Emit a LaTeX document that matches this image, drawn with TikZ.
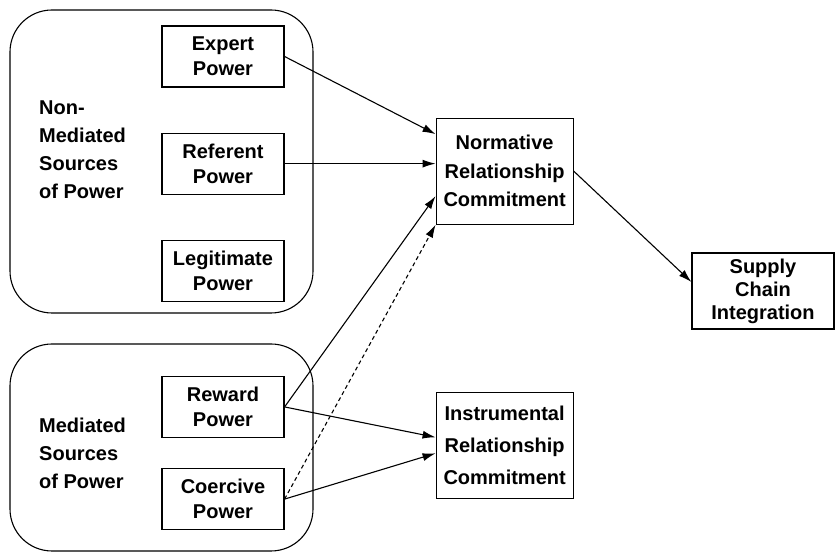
\documentclass[tikz,border=0pt]{standalone}
\usepackage{fontspec}
\setmainfont{Liberation Sans}
\usetikzlibrary{positioning,arrows.meta}

\tikzset{
  powerbox/.style={draw, line width=1.15pt, minimum width=122pt, minimum height=61pt,
    inner sep=0pt, align=center, font=\fontsize{20}{25}\selectfont\bfseries},
  commitbox/.style={powerbox, minimum width=137pt, minimum height=106pt,
    font=\fontsize{20}{28.5}\selectfont\bfseries},
  groupbox/.style={draw, line width=1.1pt, rounded corners=42pt},
  grouplabel/.style={anchor=west, inner sep=0pt, align=left,
    font=\fontsize{20}{28}\selectfont\bfseries},
  link/.style={line width=1.1pt, -{Latex[length=13pt,width=8pt]}},
}

\begin{document}
\begin{tikzpicture}[x=1pt,y=1pt]
  \useasboundingbox (0,0) rectangle (835,553);

  % sources of power
  \node[groupbox, minimum width=303pt, minimum height=303pt] (nonmed) at (161.5,391.5) {};
  \node[groupbox, minimum width=303pt, minimum height=207pt] (med) at (161.5,105.5) {};
  \node[grouplabel] (nonmedlabel) at (39,403) {Non-\\Mediated\\Sources\\of Power};
  \node[grouplabel] (medlabel) at (39,100) {Mediated\\Sources\\of Power};

  \node[powerbox] (expert) at (223,496.5) {Expert\\Power};
  \node[powerbox, below=45pt of expert] (referent) {Referent\\Power};
  \node[powerbox, below=45pt of referent] (legit) {Legitimate\\Power};
  \node[powerbox, below=74pt of legit] (reward) {Reward\\Power};
  \node[powerbox, below=30pt of reward] (coercive) {Coercive\\Power};

  % commitment and integration
  \node[commitbox, right=151pt of referent, yshift=-7.5pt] (normative) {Normative\\Relationship\\Commitment};
  \node[commitbox, below=167pt of normative, font=\fontsize{20}{32}\selectfont\bfseries] (instrumental) {Instrumental\\Relationship\\Commitment};
  \node[powerbox, minimum width=142pt, minimum height=76pt, font=\fontsize{20}{23}\selectfont\bfseries] (supply) at (763,262) {Supply\\Chain\\Integration};

  \draw[link] (expert.east) -- ([yshift=37pt]normative.west);
  \draw[link] (referent.east) -- (referent.east -| normative.west);
  \draw[link] (reward.east) -- ([yshift=-25pt]normative.west);
  \draw[link, dash pattern=on 4pt off 3pt] (coercive.east) -- (normative.south west);
  \draw[link] (reward.east) -- ([yshift=8pt]instrumental.west);
  \draw[link] (coercive.east) -- ([yshift=-8pt]instrumental.west);
  \draw[link] (normative.east) -- ([yshift=9pt]supply.west);
\end{tikzpicture}
\end{document}
